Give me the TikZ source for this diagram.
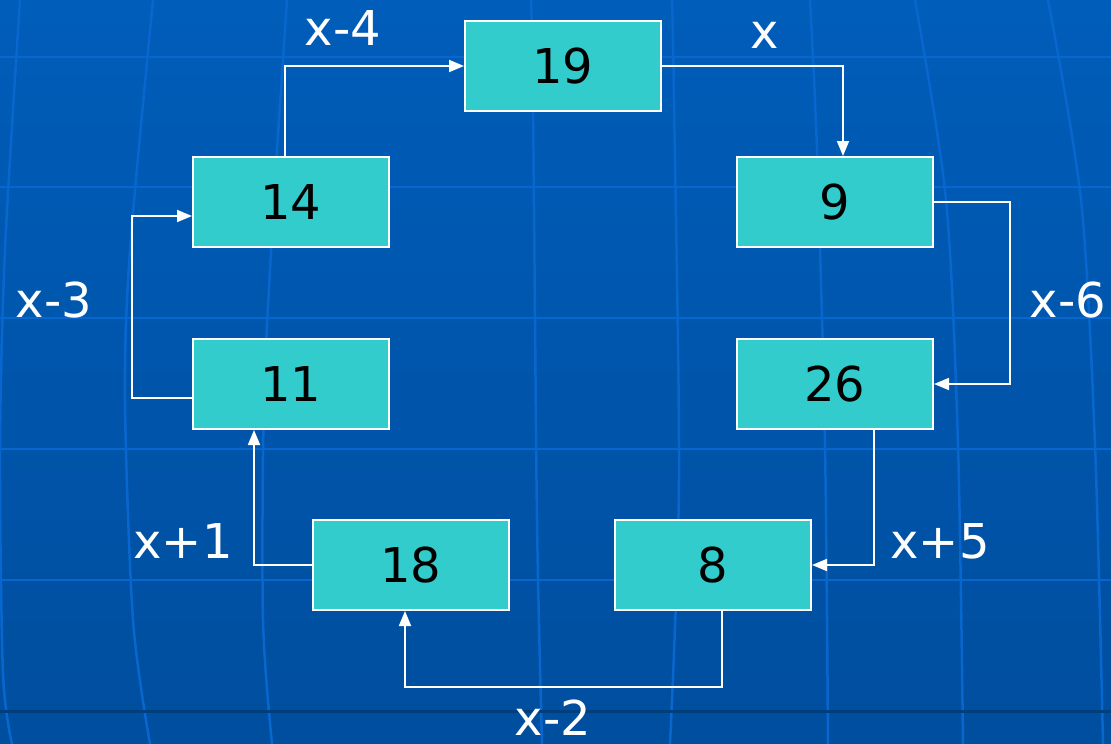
\documentclass[tikz,border=0pt]{standalone}
\usepackage{fontspec}
\setmainfont{DejaVu Sans}
\usetikzlibrary{arrows.meta}
\definecolor{bgtop}{RGB}{0,93,185}
\definecolor{bgbot}{RGB}{0,78,158}
\definecolor{gridc}{RGB}{8,103,206}
\definecolor{darkline}{RGB}{0,62,125}
\definecolor{boxfill}{RGB}{51,204,204}
\tikzset{
  numbox/.style={draw=white, line width=2pt, fill=boxfill, minimum width=196pt, minimum height=90pt, inner sep=0pt, font=\fontsize{48}{58}\selectfont, text=black},
  lbl/.style={anchor=base, inner sep=0pt, font=\fontsize{48}{58}\selectfont, text=white},
  conn/.style={draw=white, line width=1.8pt, -{Triangle[length=15pt,width=12pt]}},
  gridline/.style={draw=gridc, line width=2.5pt}
}
\begin{document}
\begin{tikzpicture}[x=1pt,y=-1pt]
\useasboundingbox (0,0) rectangle (1111,744);
% background
\shade[top color=bgtop, bottom color=bgbot] (0,0) rectangle (1111,744);
\begin{scope}
\clip (0,0) rectangle (1111,744);
\foreach \yy in {57,187,318,449,580} \draw[gridline] (0,\yy) -- (1111,\yy);
\draw[gridline] plot[smooth] coordinates {(20,0) (5,250) (0,450) (3,673) (12,744)};
\draw[gridline] plot[smooth] coordinates {(153,0) (130,250) (125,400) (133,620) (150,744)};
\draw[gridline] plot[smooth] coordinates {(287,0) (274,200) (264,400) (263,620) (272,744)};
\draw[gridline] plot[smooth] coordinates {(531,0) (533,100) (537,520) (542,744)};
\draw[gridline] plot[smooth] coordinates {(672,0) (674,100) (679,480) (670,744)};
\draw[gridline] plot[smooth] coordinates {(810,0) (817,150) (825,445) (828,744)};
\draw[gridline] plot[smooth] coordinates {(915,0) (946,200) (958,445) (963,744)};
\draw[gridline] plot[smooth] coordinates {(1048,0) (1081,200) (1095,445) (1103,744)};
\draw[darkline, line width=3pt] (0,711) -- (1111,711);
\end{scope}
% boxes
\node[numbox] (n19) at (563,66) {19};
\node[numbox] (n14) at (291,202) {14};
\node[numbox] (n9)  at (835,202) {9};
\node[numbox] (n11) at (291,384) {11};
\node[numbox] (n26) at (835,384) {26};
\node[numbox] (n18) at (411,565) {18};
\node[numbox] (n8)  at (713,565) {8};
% connectors
\draw[conn] ([xshift=-6pt]n14.north) |- (n19.west);
\draw[conn] (n19.east) -| ([xshift=8pt]n9.north);
\draw[conn] (n9.east) -- ++(76,0) |- (n26.east);
\draw[conn] ([xshift=39pt]n26.south) |- (n8.east);
\draw[conn] ([xshift=9pt]n8.south) -- ++(0,76) -| ([xshift=-6pt]n18.south);
\draw[conn] (n18.west) -| ([xshift=-37pt]n11.south);
\draw[conn] ([yshift=-14pt]n11.west) -- ++(-60,0) |- ([yshift=-14pt]n14.west);
% labels
\node[lbl] (l1) at (343,45) {x-4};
\node[lbl] (l2) at (765,48) {x};
\node[lbl] (l3) at (1068,317) {x-6};
\node[lbl] (l4) at (940,558) {x+5};
\node[lbl] (l5) at (553,735) {x-2};
\node[lbl] (l6) at (183,558) {x+1};
\node[lbl] (l7) at (54,317) {x-3};
\end{tikzpicture}
\end{document}
